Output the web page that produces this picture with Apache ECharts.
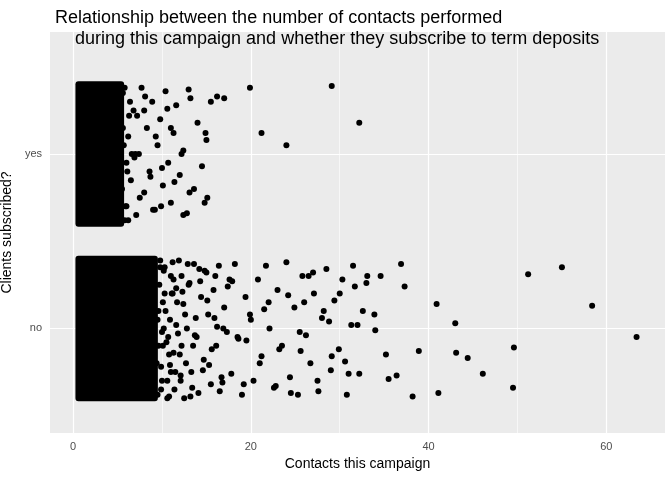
<!DOCTYPE html>
<html><head><meta charset="utf-8">
<script src="https://cdn.jsdelivr.net/npm/echarts@6/dist/echarts.min.js"></script>
<style>body{margin:0}#c{width:672px;height:480px}</style></head>
<body><div id="c"></div>
<script>
// Dense (fully black) jittered blocks: x range and jitter y range
const blockX0 = [0.6, 0.6];
const blockX1 = [5.4, 9.2];
const blockY0 = [1.6, 0.6];
const blockY1 = [2.4, 1.4];
// Group "no" = 1, "yes" = 2 (jittered values)
const noX = [9.5,9.8,10.1,10.3,10.6,10.9,11.2,11.4,11.7,12.0,12.2,12.5,12.8,13.0,13.3,13.6,13.9,14.1,14.4,14.7,15.0,15.2,15.5,15.8,16.1,16.4,16.7,17.0,17.3,17.6,
 9.6,9.9,10.2,10.5,10.8,11.1,11.3,11.6,11.9,12.1,12.4,12.7,13.1,13.4,13.8,14.2,14.6,15.1,15.6,16.0,16.5,16.9,17.4,17.8,18.2,18.6,19.0,19.4,19.9,20.3,
 20.8,21.2,21.7,22.1,22.6,23.0,23.5,24.0,24.4,24.9,25.3,25.8,26.2,26.7,27.1,27.6,28.0,28.5,29.0,29.4,29.9,30.3,30.8,31.3,31.7,32.2,32.6,33.1,33.9,34.6,
 18.5,19.2,20.0,21.0,22.0,23.2,24.5,25.5,26.5,27.5,28.2,29.1,30.0,31.0,32.0,33.0,35.2,36.4,36.9,37.3,38.2,38.9,40.9,41.1,43.0,43.1,44.4,46.1,49.5,49.6,51.2,55.0,58.4,63.4,
 10.0,11.0,12.3,13.5,14.8,15.9,16.8,17.9,19.5,21.5,22.8,24.2,25.6,27.0,28.8,30.6,31.5,34.0,35.5,26.0,
 9.4,9.7,10.0,10.4,10.7,11.0,9.5,9.9,10.3,10.8,11.2,11.5,9.6,10.1,10.6,11.3,11.8,12.1,9.8,10.2,10.9,11.6,12.2,12.6,13.2,12.9,13.7,14.3,15.3,16.2];
const noY = [0.62,1.35,0.9,1.2,0.7,1.05,1.38,0.65,1.15,0.85,1.3,0.6,1.0,1.25,0.75,1.37,0.95,0.63,1.18,0.82,1.32,1.08,0.68,1.22,0.9,1.36,0.72,1.12,0.98,1.28,
 1.1,0.78,1.33,0.92,0.61,1.2,0.86,1.02,1.39,0.7,1.14,0.8,1.26,0.66,1.06,1.34,0.76,1.16,0.88,1.3,0.64,1.0,1.24,0.74,1.37,0.94,0.62,1.18,1.08,0.7,
 1.28,0.84,1.36,1.0,0.66,1.22,0.9,1.38,0.72,1.12,0.62,1.3,0.96,0.8,1.2,0.64,1.06,1.34,0.76,1.16,0.88,1.28,0.62,1.02,1.24,0.74,1.1,1.3,1.08,1.3,
 0.95,0.68,1.05,0.8,1.15,0.88,0.63,0.98,1.3,0.7,1.1,0.84,1.2,0.74,1.02,1.26,0.85,0.73,1.37,1.24,0.61,0.87,1.14,0.63,1.03,0.86,0.83,0.74,0.66,0.89,1.31,1.35,1.13,0.95,
 0.98,0.75,1.21,0.9,1.33,1.06,0.69,1.27,0.93,1.11,0.67,1.19,0.87,1.32,1.04,0.81,1.36,0.99,0.71,1.15,
 0.8,1.25,0.7,1.1,0.95,1.3,1.05,0.65,1.35,0.85,1.2,0.75,0.9,1.15,0.6,1.28,0.97,0.73,1.39,1.0,0.79,1.23,0.9,1.08,0.61,1.37,0.96,1.27,0.79,1.01];
const yesX = [5.6,5.9,6.2,6.5,6.8,7.1,7.4,7.7,8.0,8.3,8.6,8.9,9.2,9.5,9.8,10.1,10.4,10.7,11.0,11.3,11.6,12.0,12.4,12.8,13.2,13.6,14.0,14.5,15.0,15.5,
 5.8,6.3,6.9,7.5,8.1,8.7,9.3,9.9,10.6,11.4,12.2,13.0,14.9,15.1,14.8,13.1,12.4,16.2,17.0,19.9,21.2,24.0,29.1,32.2,6.0,7.0,8.0,9.0,10.0,11.0,
 5.5,5.7,6.1,6.4,5.6,6.0,6.6,5.8,6.2,7.2];
const yesY = [2.35,1.7,2.1,1.85,2.25,1.65,2.0,2.38,1.78,2.15,1.9,2.3,1.68,2.05,2.2,1.82,2.36,1.95,1.72,2.12,2.28,1.88,2.02,1.66,2.32,1.8,2.18,1.93,2.08,2.3,
 1.62,2.22,1.98,1.75,2.33,1.87,2.1,1.7,2.26,1.84,2.0,2.37,2.12,1.75,1.72,1.78,1.65,2.33,2.32,2.38,2.12,2.05,2.39,2.18,1.95,2.0,2.25,1.68,1.92,2.15,
 1.8,2.05,1.9,2.3,2.15,1.7,2.0,2.38,1.62,2.22];

const pts = (xs, ys) => xs.map((x, i) => [x, ys[i]]);
const blocks = blockX0.map((v, i) => [v, blockX1[i], blockY0[i], blockY1[i]]);
const c = echarts.init(document.getElementById('c'));
const gl = (v) => ({ xAxis: v });
c.setOption({
  animation: false,
  title: { text: 'Relationship between the number of contacts performed\n    during this campaign and whether they subscribe to term deposits',
    left: 50, top: 3, textStyle: { fontSize: 18, fontWeight: 'normal', color: '#000', lineHeight: 21, fontFamily: 'Liberation Sans' } },
  grid: { left: 50, right: 7, top: 32, bottom: 47, show: true, backgroundColor: '#EBEBEB', borderWidth: 0, containLabel: false, outerBoundsMode: 'none' },
  xAxis: { type: 'value', min: -2.6, max: 66.6, interval: 0.2, name: 'Contacts this campaign', nameLocation: 'middle', nameGap: 22,
    nameTextStyle: { fontSize: 14, color: '#000' },
    axisLine: { show: false }, axisTick: { show: false }, splitLine: { show: false },
    axisLabel: { color: '#4D4D4D', fontSize: 11, margin: 8, formatter: v => { const r = Math.round(v); return (Math.abs(v - r) < 1e-6 && r % 20 === 0 && r >= 0) ? String(r) : ''; } } },
  yAxis: { type: 'value', min: 0.4, max: 2.7, interval: 0.1, name: 'Clients subscribed?', nameLocation: 'middle', nameGap: 32,
    nameTextStyle: { fontSize: 14, color: '#000' },
    axisLine: { show: false }, axisTick: { show: false }, splitLine: { show: false },
    axisLabel: { color: '#4D4D4D', fontSize: 11, formatter: v => Math.abs(v - 1) < 1e-6 ? 'no' : (Math.abs(v - 2) < 1e-6 ? 'yes' : '') } },
  series: [
    { type: 'line', data: [], silent: true, z: 0, markLine: { z: 0, symbol: 'none', silent: true, label: { show: false },
        lineStyle: { color: '#fff', type: 'solid', width: 0.6 }, data: [gl(10), gl(30), gl(50)] } },
    { type: 'line', data: [], silent: true, z: 0, markLine: { z: 0, symbol: 'none', silent: true, label: { show: false },
        lineStyle: { color: '#fff', type: 'solid', width: 1.2 }, data: [gl(0), gl(20), gl(40), gl(60), { yAxis: 1 }, { yAxis: 2 }] } },
    { type: 'custom', z: 5, data: blocks, renderItem: (p, api) => {
        const a = api.coord([api.value(0), api.value(3)]), b = api.coord([api.value(1), api.value(2)]);
        return { type: 'rect', shape: { x: a[0] - 3, y: a[1] - 3, width: b[0] - a[0] + 6, height: b[1] - a[1] + 6, r: 3 }, style: { fill: '#000' } };
      } },
    { type: 'scatter', z: 5, data: pts(noX, noY), symbolSize: 6, itemStyle: { color: '#000', opacity: 1 } },
    { type: 'scatter', z: 5, data: pts(yesX, yesY), symbolSize: 6, itemStyle: { color: '#000', opacity: 1 } }
  ]
});
</script></body></html>
